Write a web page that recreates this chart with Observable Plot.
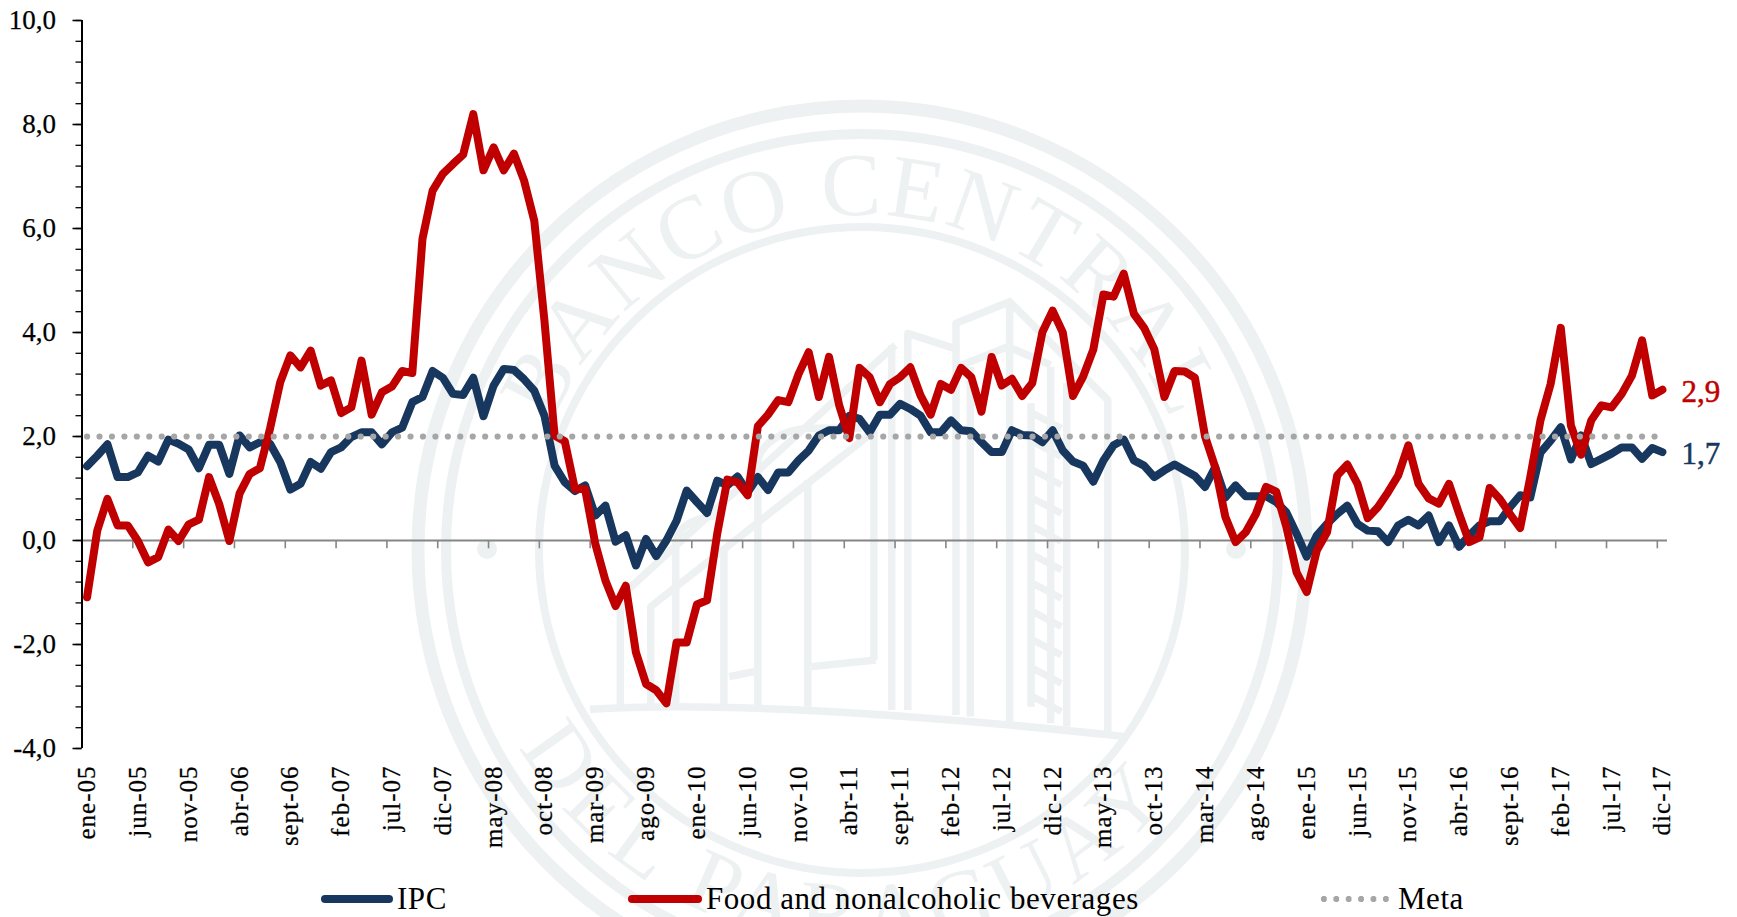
<!DOCTYPE html>
<html>
<head>
<meta charset="utf-8">
<script src="https://cdn.jsdelivr.net/npm/d3@7"></script>
<script src="https://cdn.jsdelivr.net/npm/@observablehq/plot@0.6"></script>
<style>
html,body{margin:0;padding:0;background:#fff;overflow:hidden}
#wrap{position:relative;width:1737px;height:917px;font-family:"Liberation Serif",serif;color:#000}
#wrap svg{display:block;font-family:"Liberation Serif",serif}
[aria-label="x-axis tick label"] text{letter-spacing:1px}
[aria-label$="tick label"] text{stroke:#000;stroke-width:.25px}
.lg{position:absolute;font-size:31px;line-height:36px;top:881px;white-space:nowrap;letter-spacing:.55px}
.sw{position:absolute;height:8px;border-radius:4px;top:895px}
.dots{position:absolute;top:896px;height:6px;background-image:radial-gradient(circle at 3px 3px,#a6a6a6 2.9px,transparent 3.2px);background-size:12.4px 6px}
</style>
</head>
<body>
<div id="wrap"></div>
<script>
const tickLabels = ["ene-05","jun-05","nov-05","abr-06","sept-06","feb-07","jul-07","dic-07","may-08","oct-08","mar-09","ago-09","ene-10","jun-10","nov-10","abr-11","sept-11","feb-12","jul-12","dic-12","may-13","oct-13","mar-14","ago-14","ene-15","jun-15","nov-15","abr-16","sept-16","feb-17","jul-17","dic-17"];
const ipc = [
1.43,1.63,1.85,1.22,1.22,1.31,1.63,1.52,1.94,1.86,
1.75,1.39,1.84,1.84,1.28,2.02,1.79,1.89,1.86,1.51,
0.98,1.09,1.51,1.38,1.70,1.79,1.99,2.08,2.08,1.85,
2.08,2.17,2.66,2.76,3.26,3.13,2.82,2.80,3.13,2.39,
2.98,3.30,3.28,3.10,2.88,2.40,1.44,1.12,0.95,1.06,
0.48,0.67,-0.02,0.10,-0.48,0.03,-0.30,0.00,0.38,0.96,
0.74,0.53,1.15,1.06,1.23,0.93,1.22,0.97,1.31,1.31,
1.54,1.73,2.02,2.12,2.12,2.40,2.34,2.08,2.42,2.42,
2.63,2.53,2.40,2.08,2.08,2.31,2.12,2.10,1.89,1.70,
1.70,2.12,2.03,2.02,1.89,2.12,1.73,1.52,1.44,1.13,
1.54,1.83,1.94,1.54,1.44,1.22,1.35,1.46,1.35,1.24,
1.03,1.41,0.83,1.06,0.85,0.85,0.85,0.74,0.54,0.13,
-0.31,0.10,0.32,0.51,0.67,0.32,0.19,0.18,-0.03,0.29,
0.40,0.29,0.48,-0.03,0.29,-0.12,0.10,0.29,0.37,0.37,
0.64,0.87,0.83,1.69,1.92,2.18,1.56,2.02,1.47,1.57,
1.67,1.79,1.79,1.57,1.78,1.70];
const food = [
-1.09,0.19,0.80,0.29,0.29,-0.01,-0.42,-0.32,0.21,-0.01,
0.31,0.40,1.22,0.70,-0.01,0.90,1.28,1.39,2.15,3.04,
3.56,3.33,3.65,2.98,3.08,2.45,2.56,3.46,2.42,2.85,
2.96,3.26,3.22,5.80,6.73,7.05,7.24,7.42,8.20,7.12,
7.56,7.12,7.44,6.92,6.15,4.23,2.02,1.91,0.99,0.99,
-0.06,-0.77,-1.26,-0.87,-2.15,-2.76,-2.88,-3.13,-1.96,-1.96,
-1.23,-1.15,0.13,1.17,1.12,0.87,2.20,2.42,2.70,2.66,
3.20,3.62,2.76,3.53,2.60,1.97,3.32,3.14,2.66,3.01,
3.14,3.33,2.79,2.42,3.01,2.90,3.32,3.14,2.48,3.53,
2.98,3.11,2.78,3.03,4.01,4.42,4.00,2.78,3.15,3.67,
4.73,4.69,5.13,4.36,4.09,3.68,2.76,3.26,3.25,3.13,
2.00,1.41,0.45,-0.03,0.16,0.51,1.03,0.94,0.26,-0.61,
-0.99,-0.19,0.16,1.25,1.46,1.09,0.43,0.64,0.93,1.25,
1.83,1.09,0.81,0.71,1.09,0.51,-0.03,0.06,1.01,0.80,
0.51,0.24,1.22,2.31,3.01,4.09,2.21,1.65,2.31,2.60,
2.56,2.82,3.17,3.85,2.79,2.90];
const meta = ipc.map(() => 2);
const legendNames = ["IPC","Food and nonalcoholic beverages","Meta"];
const endLabels = ["1,7","2,9"];
const colors = {ipc:"#17375e", food:"#c00000", meta:"#a6a6a6"};
const months = d3.range(ipc.length);
const tickIdx = tickLabels.map((_, i) => i * 5);
const fmt = d => d.toFixed(1).replace(".", ",");

function watermark() {
  const W = "#edf1f2", cx = 862, cy = 550;
  const g = d3.create("svg:g").attr("aria-label", "watermark").attr("fill", "none").attr("stroke", W);
  [[444,13],[416,10],[323,8]].forEach(([r,w]) => g.append("circle").attr("cx",cx).attr("cy",cy).attr("r",r).attr("stroke-width",w));
  [[487,549],[1236,549]].forEach(([x,y]) => g.append("circle").attr("cx",x).attr("cy",y).attr("r",10).attr("fill",W).attr("stroke","none"));
  const arc = (r, a0, a1, sweep) => {
    const p = a => [cx + r*Math.sin(a*Math.PI/180), cy - r*Math.cos(a*Math.PI/180)];
    const [x0,y0] = p(a0), [x1,y1] = p(a1);
    return `M${x0} ${y0}A${r} ${r} 0 ${Math.abs(a1-a0)>180?1:0} ${sweep} ${x1} ${y1}`;
  };
  g.append("path").attr("id","wmTop").attr("d",arc(335,-85,85,1)).attr("stroke","none");
  g.append("path").attr("id","wmBot").attr("d",arc(395,256,112,0)).attr("stroke","none");
  const put = (id, txt, ls) => {
    const t = g.append("text").attr("fill",W).attr("stroke","none").attr("font-size",90).attr("letter-spacing",ls).attr("text-anchor","middle");
    t.append("textPath").attr("href","#"+id).attr("startOffset","50%").text(txt);
  };
  put("wmTop","BANCO CENTRAL",3);
  put("wmBot","DEL PARAGUAY",8);
  // building, drawn in a local frame of the seal
  const b = g.append("g").attr("transform","translate(590,290) scale(0.3571,0.3333)").attr("stroke-linejoin","round");
  const lines = [
    "M0 1258C320 1235 850 1265 1500 1340",
    "M85 1250V920L855 165",
    "M170 1250V950L800 420",
    "M240 1250V760C250 700 300 680 375 675",
    "M375 1250V780",
    "M470 1250V510C480 460 540 420 610 415H760",
    "M610 1250V570",
    "M795 1110V420",
    "M390 1160L460 1145",
    "M620 1130L800 1110",
    "M845 1260V165",
    "M890 1260V130L1020 175",
    "M1025 1275V100L1175 35L1450 330V1325",
    "M1030 230L1170 170L1290 225",
    "M1065 1280V230",
    "M1175 1295V40",
    "M1235 340V1250",
    "M1290 1300V230",
    "M1335 1310V280"
  ];
  lines.forEach(d => b.append("path").attr("d",d).attr("stroke-width",7.5).attr("vector-effect","non-scaling-stroke"));
  b.append("path").attr("d", d3.range(370,1240,85).map(y => `M1240 ${y}L1320 ${y+45}`).join(""))
    .attr("stroke-width",7).attr("vector-effect","non-scaling-stroke");
  return g.node();
}

const chart = Plot.plot({
  width: 1737, height: 917,
  marginLeft: 81.5, marginRight: 70, marginTop: 20, marginBottom: 169,
  style: {background: "transparent", fontFamily: "Liberation Serif", overflow: "visible"},
  x: {type: "linear", domain: [-0.5, 155.5]},
  y: {domain: [-4, 10]},
  marks: [
    watermark,
    Plot.ruleY([0], {stroke: "#868686", strokeWidth: 1.8}),
    Plot.ruleX(tickIdx, {x: d => d - 0.5, y1: 0, y2: -0.16, stroke: "#868686", strokeWidth: 1.6}),
    Plot.axisX(tickIdx, {anchor: "bottom", tickSize: 0, tickRotate: -90, tickPadding: 17, tickFormat: i => tickLabels[i / 5], fontSize: 25, label: null, fill: "#000"}),
    Plot.axisY(d3.range(-4, 10.01, 0.4), {anchor: "left", tickSize: 6, tickFormat: () => "", label: null, stroke: "#000", strokeWidth: 1.3}),
    Plot.axisY(d3.range(-4, 10.01, 2), {anchor: "left", tickSize: 9, tickPadding: 17, tickFormat: fmt, fontSize: 27, label: null, stroke: "#000", strokeWidth: 1.6, fill: "#000"}),
    Plot.ruleX([-0.5], {stroke: "#000", strokeWidth: 2}),
    Plot.lineY(ipc, {x: months, y: ipc, stroke: colors.ipc, strokeWidth: 8, strokeLinejoin: "round", strokeLinecap: "round"}),
    Plot.lineY(food, {x: months, y: food, stroke: colors.food, strokeWidth: 8, strokeLinejoin: "round", strokeLinecap: "round"}),
    Plot.lineY(meta, {x: months, y: meta, stroke: colors.meta, strokeWidth: 6.2, strokeDasharray: "0 12.44", strokeLinecap: "round"}),
    Plot.text([155], {x: d => d, y: ipc[155], text: () => endLabels[0], textAnchor: "start", dx: 19, dy: 2, fontSize: 31, fill: colors.ipc, stroke: colors.ipc, strokeWidth: 0.5}),
    Plot.text([155], {x: d => d, y: food[155], text: () => endLabels[1], textAnchor: "start", dx: 19, dy: 2, fontSize: 31, fill: colors.food, stroke: colors.food, strokeWidth: 0.5})
  ]
});
const wrap = document.getElementById("wrap");
wrap.appendChild(chart);
const add = (cls, left, width, bg, txt) => {
  const d = document.createElement("div");
  d.className = cls; d.style.left = left + "px";
  if (width) d.style.width = width + "px";
  if (bg) d.style.background = bg;
  if (txt) d.textContent = txt;
  wrap.appendChild(d);
};
add("sw", 321, 72, colors.ipc);
add("lg", 397, 0, null, legendNames[0]);
add("sw", 628, 74, colors.food);
add("lg", 706, 0, null, legendNames[1]);
add("dots", 1321, 68);
add("lg", 1398, 0, null, legendNames[2]);
</script>
</body>
</html>
